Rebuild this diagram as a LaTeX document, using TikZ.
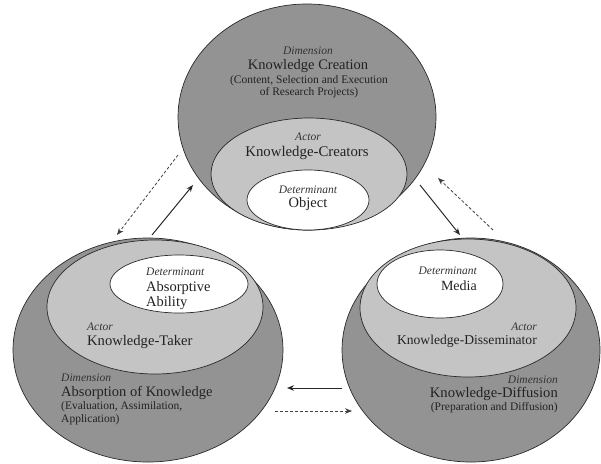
\documentclass[tikz,border=0pt]{standalone}
\usepackage{fontspec}
\setmainfont{Liberation Serif}
\usetikzlibrary{shapes.geometric,arrows.meta}
\definecolor{darkfill}{HTML}{939393}
\definecolor{lightfill}{HTML}{C4C4C4}
\definecolor{inkc}{HTML}{222222}
\definecolor{italc}{HTML}{333333}
\definecolor{edgec}{HTML}{2A2A2A}
\tikzset{
  blob/.style={ellipse, draw=edgec, line width=0.7pt, inner sep=0pt, outer sep=0pt},
  outerblob/.style={blob, fill=darkfill},
  midblob/.style={blob, fill=lightfill},
  coreblob/.style={blob, fill=white},
  lbl/.style={inner sep=0pt, text=italc, font=\fontsize{11.5}{13}\selectfont\itshape},
  big/.style={inner sep=0pt, text=inkc, font=\fontsize{#1}{#1}\selectfont},
  small/.style={inner sep=0pt, text=inkc, font=\fontsize{11.5}{13}\selectfont},
  flow/.style={draw=black!85, line width=1pt, -{Stealth[length=7pt,width=5.5pt]}},
  backflow/.style={draw=black!75, line width=0.8pt, dash pattern=on 3pt off 2pt, -{Stealth[length=7pt,width=5.5pt]}}
}
\begin{document}
\begin{tikzpicture}[x=1pt,y=-1pt]
\useasboundingbox (0,0) rectangle (601,463);
% top group
\node[outerblob, minimum width=258pt, minimum height=226pt] (topO) at (307,117) {};
\node[midblob, minimum width=196pt, minimum height=112pt] (topM) at (309,174) {};
\node[coreblob, minimum width=122pt, minimum height=60pt] (topC) at (308,200) {};
% left group
\node[outerblob, minimum width=270pt, minimum height=224pt] (leftO) at (148,350) {};
\node[midblob, minimum width=216pt, minimum height=134pt] (leftM) at (155,307) {};
\node[coreblob, minimum width=138pt, minimum height=58pt] (leftC) at (179,284) {};
% right group
\node[outerblob, minimum width=258pt, minimum height=224pt] (rightO) at (471,350) {};
\node[midblob, minimum width=216pt, minimum height=138pt] (rightM) at (468,308) {};
\node[coreblob, minimum width=126pt, minimum height=68pt] (rightC) at (440,284) {};

% top texts
\node[lbl] (t1) at (308,51) {Dimension};
\node[big=14.5] (t2) at (308,66) {Knowledge Creation};
\node[small] (t3) at (309,81) {(Content, Selection and Execution};
\node[small] (t4) at (309,93) {of Research Projects)};
\node[lbl] (t5) at (308,137) {Actor};
\node[big=14.8] (t6) at (307,153) {Knowledge-Creators};
\node[lbl] (t7) at (308,190) {Determinant};
\node[big=14.5] (t8) at (308,204) {Object};

% left texts
\node[lbl, anchor=west] (l1) at (146,272) {Determinant};
\node[big=14.5, anchor=west] (l2) at (146,288) {Absorptive};
\node[big=14.5, anchor=west] (l3) at (146,303) {Ability};
\node[lbl, anchor=west] (l4) at (87,327) {Actor};
\node[big=14.6, anchor=west] (l5) at (87,342) {Knowledge-Taker};
\node[lbl, anchor=west] (l6) at (61,378) {Dimension};
\node[big=14.5, anchor=west] (l7) at (61,393) {Absorption of Knowledge};
\node[small, anchor=west] (l8) at (61,407) {(Evaluation, Assimilation,};
\node[small, anchor=west] (l9) at (61,420) {Application)};

% right texts
\node[lbl, anchor=east] (r1) at (477,271) {Determinant};
\node[big=14, anchor=east] (r2) at (477,286) {Media};
\node[lbl, anchor=east] (r3) at (537,327) {Actor};
\node[big=13.6, anchor=east] (r4) at (537,341) {Knowledge-Disseminator};
\node[lbl, anchor=east] (r5) at (558,380) {Dimension};
\node[big=14.6, anchor=east] (r6) at (558,394) {Knowledge-Diffusion};
\node[small, anchor=east] (r7) at (558,408) {(Preparation and Diffusion)};

% arrow end points
\coordinate (a1s) at (178,155); \coordinate (a1e) at (117,235);
\coordinate (a2s) at (152,235); \coordinate (a2e) at (193,185);
\coordinate (a3s) at (420,185); \coordinate (a3e) at (460,235);
\coordinate (a4s) at (493,230); \coordinate (a4e) at (438,178);
\coordinate (a5s) at (342,388); \coordinate (a5e) at (287,388);
\coordinate (a6s) at (275,411); \coordinate (a6e) at (352,411);

\draw[backflow] (a1s) -- (a1e);
\draw[flow] (a2s) -- (a2e);
\draw[flow] (a3s) -- (a3e);
\draw[backflow] (a4s) -- (a4e);
\draw[flow] (a5s) -- (a5e);
\draw[backflow] (a6s) -- (a6e);
\end{tikzpicture}
\end{document}
